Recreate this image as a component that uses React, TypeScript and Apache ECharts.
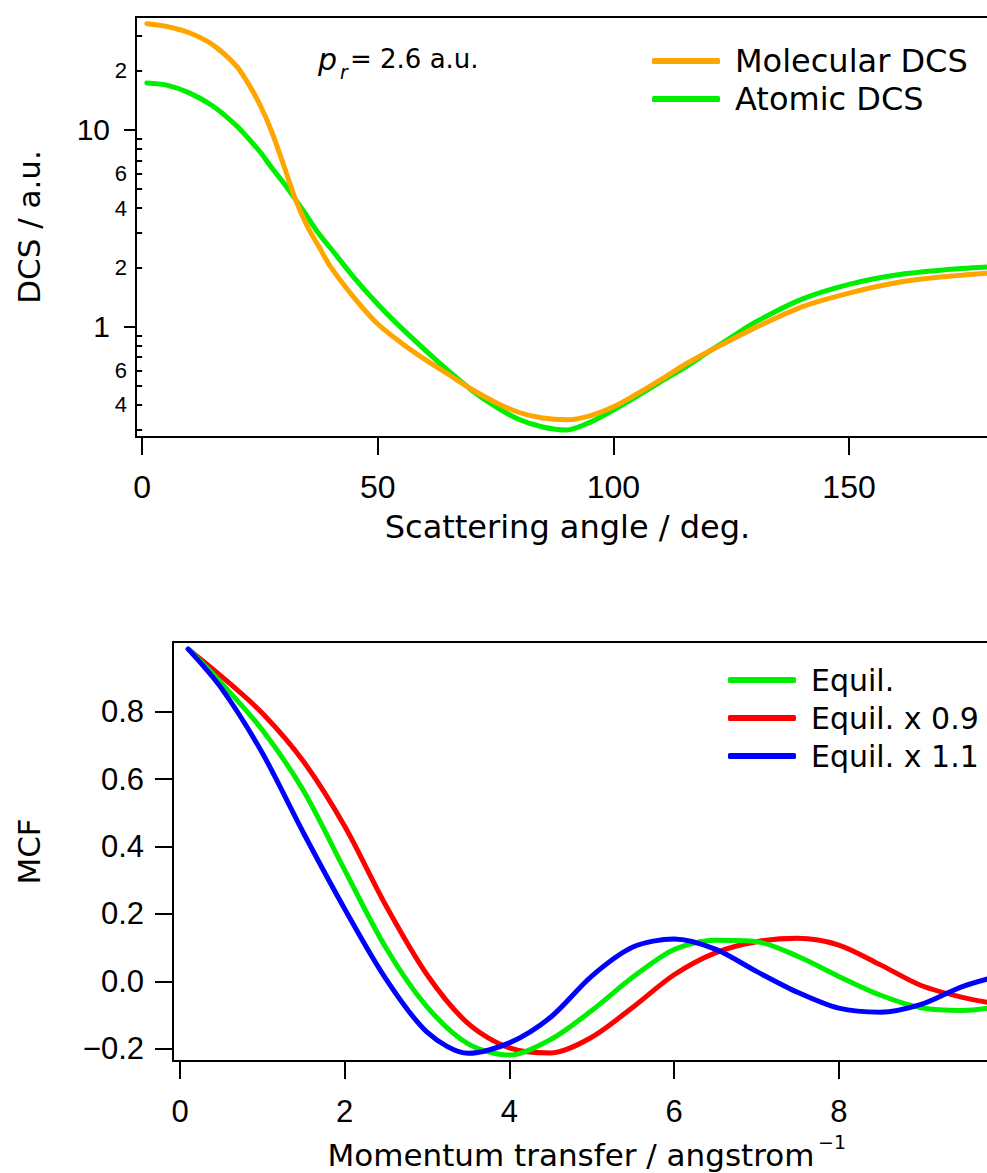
import React, { useEffect, useRef } from 'react';
import * as echarts from 'echarts';

// ---- Top panel: differential cross sections (log scale) ----
const angles = [1, 5, 10, 15, 20, 22.5, 25, 27.5, 30, 32.5, 35, 37.5, 40, 45, 50, 55, 60, 65, 70, 75, 80, 85, 90, 95, 100, 105, 110, 115, 120, 125, 130, 140, 150, 160, 170, 180];
const molecularDCS = [34.6, 33.6, 31.1, 27.0, 21.1, 17.2, 13.4, 9.77, 6.64, 4.46, 3.25, 2.55, 2.01, 1.40, 1.03, 0.826, 0.681, 0.571, 0.479, 0.412, 0.366, 0.343, 0.336, 0.352, 0.391, 0.455, 0.536, 0.638, 0.743, 0.856, 0.985, 1.26, 1.48, 1.67, 1.79, 1.87];
const atomicDCS = [17.3, 16.9, 15.4, 13.2, 10.5, 9.06, 7.73, 6.41, 5.38, 4.44, 3.63, 2.96, 2.50, 1.77, 1.30, 0.985, 0.762, 0.596, 0.474, 0.392, 0.337, 0.309, 0.298, 0.326, 0.377, 0.442, 0.524, 0.617, 0.739, 0.881, 1.05, 1.38, 1.64, 1.83, 1.94, 2.01];

const dcsMajorTicks = [1, 10];
const dcsMinorTicks = [0.3, 0.4, 0.5, 0.6, 0.7, 0.8, 0.9, 2, 3, 4, 5, 6, 7, 8, 9, 20, 30];
const dcsMinorLabels = [0.4, 0.6, 2, 4, 6, 20];
const angleTicks = [0, 50, 100, 150];

// ---- Bottom panel: MCF ----
const momentum = [0.1, 0.5, 1, 1.5, 2, 2.5, 3, 3.5, 4, 4.5, 5, 5.5, 6, 6.5, 7, 7.5, 8, 8.5, 9, 9.5, 10];
const mcfEquil = [0.985, 0.885, 0.745, 0.565, 0.33, 0.1, -0.075, -0.185, -0.218, -0.172, -0.086, 0.013, 0.095, 0.122, 0.118, 0.075, 0.015, -0.04, -0.078, -0.086, -0.072];
const mcfEquil09 = [0.985, 0.905, 0.795, 0.652, 0.46, 0.225, 0.02, -0.125, -0.197, -0.212, -0.165, -0.076, 0.02, 0.085, 0.118, 0.128, 0.108, 0.05, -0.012, -0.047, -0.07];
const mcfEquil11 = [0.985, 0.87, 0.677, 0.44, 0.215, 0.008, -0.15, -0.213, -0.182, -0.106, 0.016, 0.102, 0.126, 0.096, 0.03, -0.032, -0.079, -0.091, -0.068, -0.015, 0.02];
const momentumTicks = [0, 2, 4, 6, 8];
const mcfTicks = [-0.2, 0, 0.2, 0.4, 0.6, 0.8];

const NUM_FONT = 'Liberation Sans, Arial, sans-serif';
const TXT_FONT = 'DejaVu Sans, sans-serif';
const ORANGE = '#ffa500';
const GREEN = '#00ee00';
const RED = '#ff0000';
const BLUE = '#0000ff';

const black = { color: '#000', width: 2 };

export default function App() {
  const ref = useRef<HTMLDivElement>(null);
  useEffect(() => {
    if (!ref.current) return;
    const chart = echarts.init(ref.current, null, { renderer: 'svg' });
    const lg = (v: number) => Math.log10(v);
    const yMin = -0.561;
    const yMax = 1.573;
    const lineSeries = (name: string, color: string, xi: number, yi: number, data: number[][]) => ({
      type: 'line',
      name,
      xAxisIndex: xi,
      yAxisIndex: yi,
      data,
      symbol: 'none',
      showSymbol: false,
      smooth: 0.3,
      lineStyle: { color, width: 5, cap: 'round', join: 'round' },
      itemStyle: { color },
      z: 3,
    });
    const legendBase = {
      orient: 'vertical',
      itemWidth: 68,
      itemHeight: 6,
      icon: 'roundRect',
      itemGap: 0,
      padding: 0,
      selectedMode: false,
    };
    const legendText = (size: number) => ({ fontSize: size, lineHeight: 38, color: '#000', fontFamily: TXT_FONT, padding: [0, 0, 0, 10] });
    chart.setOption({
      animation: false,
      backgroundColor: '#fff',
      grid: [
        { left: 136, top: 17, width: 878, height: 420, show: true, borderColor: '#000', borderWidth: 2, backgroundColor: 'transparent', outerBoundsMode: 'none', containLabel: false },
        { left: 173, top: 642, width: 847, height: 419, show: true, borderColor: '#000', borderWidth: 2, backgroundColor: 'transparent', outerBoundsMode: 'none', containLabel: false },
      ],
      legend: [
        { ...legendBase, data: ['Molecular DCS', 'Atomic DCS'], left: 652, top: 42, textStyle: legendText(32) },
        { ...legendBase, data: ['Equil.', 'Equil. x 0.9', 'Equil. x 1.1'], left: 728, top: 661, textStyle: legendText(30) },
      ],
      xAxis: [
        {
          type: 'value', gridIndex: 0, min: -1.3, max: 185,
          axisLine: { show: true, onZero: false, lineStyle: black },
          axisTick: { show: true, length: 18, lineStyle: black, customValues: angleTicks },
          axisLabel: { customValues: angleTicks, fontSize: 32, margin: 34, color: '#000', fontFamily: NUM_FONT },
          splitLine: { show: false },
          name: 'Scattering angle / deg.', nameLocation: 'middle', nameGap: 74,
          nameTextStyle: { fontSize: 32, color: '#000', fontFamily: TXT_FONT, padding: [0, 15, 0, 0] },
        },
        {
          type: 'value', gridIndex: 1, min: -0.085, max: 10.2,
          axisLine: { show: true, onZero: false, lineStyle: black },
          axisTick: { show: true, length: 18, lineStyle: black, customValues: momentumTicks },
          axisLabel: { customValues: momentumTicks, fontSize: 31, margin: 35, color: '#000', fontFamily: NUM_FONT },
          splitLine: { show: false },
        },
      ],
      yAxis: [
        {
          type: 'value', gridIndex: 0, min: yMin, max: yMax, position: 'left',
          axisLine: { show: true, onZero: false, lineStyle: black },
          axisTick: { show: true, length: 12, lineStyle: black, customValues: dcsMajorTicks.map(lg) },
          axisLabel: {
            customValues: dcsMajorTicks.map(lg), fontSize: 30, margin: 26, color: '#000', fontFamily: NUM_FONT,
            formatter: (v: number) => String(Math.round(Math.pow(10, v))),
          },
          splitLine: { show: false },
          name: 'DCS / a.u.', nameLocation: 'middle', nameGap: 92,
          nameTextStyle: { fontSize: 31, color: '#000', fontFamily: TXT_FONT },
        },
        {
          type: 'value', gridIndex: 0, min: yMin, max: yMax, position: 'left', offset: 0,
          axisLine: { show: false },
          axisTick: { show: true, length: 7, lineStyle: black, customValues: dcsMinorTicks.map(lg) },
          axisLabel: {
            customValues: dcsMinorLabels.map(lg), fontSize: 22, margin: 9, color: '#000', fontFamily: NUM_FONT,
            formatter: (v: number) => {
              const n = Math.pow(10, v);
              const p = Math.pow(10, Math.floor(v + 1e-9));
              return String(Math.round(n / p));
            },
          },
          splitLine: { show: false },
        },
        {
          type: 'value', gridIndex: 1, min: -0.2356, max: 1.006, position: 'left',
          axisLine: { show: true, onZero: false, lineStyle: black },
          axisTick: { show: true, length: 18, lineStyle: black, customValues: mcfTicks },
          axisLabel: {
            customValues: mcfTicks, fontSize: 31, margin: 29, color: '#000', fontFamily: NUM_FONT,
            formatter: (v: number) => (v < -1e-9 ? '\u2212' + Math.abs(v).toFixed(1) : Math.abs(v).toFixed(1)),
          },
          splitLine: { show: false },
          name: 'MCF', nameLocation: 'middle', nameGap: 129,
          nameTextStyle: { fontSize: 31, color: '#000', fontFamily: TXT_FONT },
        },
      ],
      series: [
        lineSeries('Atomic DCS', GREEN, 0, 0, angles.map((a, i) => [a, lg(atomicDCS[i])])),
        lineSeries('Molecular DCS', ORANGE, 0, 0, angles.map((a, i) => [a, lg(molecularDCS[i])])),
        lineSeries('Equil. x 0.9', RED, 1, 2, momentum.map((q, i) => [q, mcfEquil09[i]])),
        lineSeries('Equil.', GREEN, 1, 2, momentum.map((q, i) => [q, mcfEquil[i]])),
        lineSeries('Equil. x 1.1', BLUE, 1, 2, momentum.map((q, i) => [q, mcfEquil11[i]])),
      ],
      graphic: [
        { type: 'text', left: 318, top: 44, style: { text: 'p', font: 'italic 30px ' + TXT_FONT, fill: '#000' } },
        { type: 'text', left: 340, top: 62, style: { text: 'r', font: 'italic 19px ' + TXT_FONT, fill: '#000' } },
        { type: 'text', left: 350, top: 46, style: { text: '= 2.6 a.u.', font: '26px ' + TXT_FONT, fill: '#000' } },
        { type: 'text', x: 571, y: 1155, style: { text: 'Momentum transfer / angstrom', font: '31px ' + TXT_FONT, fill: '#000', align: 'center', verticalAlign: 'middle' } },
        { type: 'text', left: 818, top: 1132, style: { text: '\u22121', font: '19px ' + TXT_FONT, fill: '#000' } },
      ],
    });
    return () => chart.dispose();
  }, []);
  return <div ref={ref} style={{ position: 'absolute', left: 0, top: 0, width: 987, height: 1173 }} />;
}
